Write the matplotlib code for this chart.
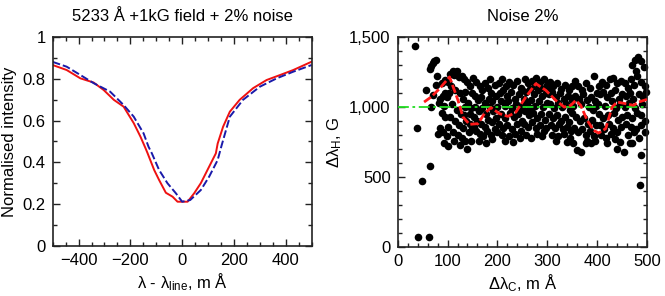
import numpy as np
import matplotlib
matplotlib.use('Agg')
import matplotlib.pyplot as plt
from matplotlib.ticker import MultipleLocator, FuncFormatter

plt.rcParams['font.family'] = ['Liberation Sans', 'DejaVu Sans']
plt.rcParams['mathtext.default'] = 'regular'

# %% Left panel: line profiles (observed + fit)
wl_red = [-500, -446, -393, -342, -303, -264, -226, -187, -161, -141, -134, -108, -89, -63, -37, -18,
          21, 46, 72, 104, 130, 137, 158, 184, 222, 274, 326, 378, 429, 500]
int_red = [0.867, 0.843, 0.803, 0.783, 0.747, 0.700, 0.667, 0.588, 0.523, 0.466, 0.445, 0.363, 0.315,
           0.254, 0.235, 0.211, 0.211, 0.251, 0.300, 0.379, 0.443, 0.490, 0.571, 0.643, 0.700, 0.756,
           0.795, 0.819, 0.843, 0.883]

wl_blue = [-500, -446, -393, -342, -278, -226, -187, -149, -130, -117, -89, -57, -24, 0, 31, 72, 104,
           137, 152, 184, 235, 300, 365, 429, 500]
int_blue = [0.882, 0.859, 0.819, 0.780, 0.739, 0.675, 0.619, 0.539, 0.475, 0.443, 0.363, 0.300, 0.251,
            0.211, 0.219, 0.267, 0.331, 0.411, 0.480, 0.619, 0.700, 0.763, 0.803, 0.835, 0.867]

# %% Right panel: scatter of recovered splitting vs. continuum offset
scatter_x = [35, 39, 40, 49, 62, 64, 57, 67, 70, 64, 67, 70, 73, 76, 78, 77, 85, 90, 95, 98, 88, 95, 100, 82, 92, 88, 95, 85, 80, 90, 98, 100, 93, 100,
             104, 110, 118, 112, 122, 128, 132, 106, 115, 125, 130, 135, 140, 145, 108, 118, 126, 134, 142, 148, 105, 115, 122, 130, 138, 145, 110, 120, 128, 136, 144, 150, 112, 125, 140, 148, 133, 103, 150, 146,
             152, 158, 165, 170, 176, 182, 188, 195, 155, 162, 168, 175, 183, 190, 198, 156, 163, 170, 178, 185, 192, 200, 154, 160, 168, 175, 182, 190, 197, 158, 166, 172, 180, 188, 195, 163, 178, 190, 153, 186,
             203, 210, 218, 224, 232, 240, 247, 205, 212, 220, 228, 236, 244, 250, 207, 215, 222, 230, 238, 246, 208, 216, 226, 234, 242, 250, 204, 212, 220, 230, 240, 248, 210, 224, 236, 246, 215, 232, 200, 250,
             255, 262, 270, 278, 286, 293, 300, 258, 266, 274, 282, 290, 297, 253, 260, 268, 276, 284, 292, 299, 256, 264, 272, 280, 288, 296, 254, 262, 270, 278, 286, 294, 258, 268, 280, 290, 298, 275, 265, 288,
             305, 312, 320, 328, 336, 344, 303, 310, 318, 326, 334, 342, 350, 306, 314, 322, 330, 338, 346, 304, 312, 320, 328, 336, 344, 308, 316, 324, 332, 340, 348, 310, 322, 334, 346, 318, 340, 302, 349,
             355, 362, 370, 378, 386, 394, 400, 356, 364, 372, 380, 388, 396, 352, 368, 384, 392, 398, 358, 366, 374, 382, 390, 398, 354, 362, 370, 378, 386, 394, 352, 359, 368, 377, 380, 396, 388, 350,
             403, 410, 418, 425, 432, 440, 447, 405, 412, 420, 428, 436, 444, 450, 402, 416, 430, 438, 446, 404, 412, 422, 434, 442, 450, 406, 414, 424, 432, 440, 448, 408, 418, 428, 436, 440, 454, 420, 446,
             455, 462, 468, 474, 480, 488, 495, 470, 476, 482, 488, 494, 478, 458, 466, 472, 484, 492, 498, 456, 464, 476, 490, 460, 470, 480, 487, 496, 458, 468, 478, 488, 462, 474, 484, 466, 470, 487, 486, 496]
scatter_y = [1440, 850, 65, 470, 72, 575, 1120, 1000, 1085, 1270, 1295, 1315, 1330, 1340, 1220, 1155, 1060, 1080, 1100, 1075, 1170, 1195, 1180, 1030, 1010, 960, 930, 850, 810, 820, 790, 860, 745, 720,
             1240, 1255, 1260, 1230, 1215, 1225, 1200, 1150, 1120, 1100, 1060, 1110, 1180, 1150, 1020, 980, 950, 1000, 1030, 990, 930, 900, 870, 850, 900, 880, 820, 800, 780, 760, 820, 840, 760, 730, 700, 760, 940, 1100, 1100, 950,
             1210, 1180, 1150, 1120, 1170, 1140, 1100, 1160, 1080, 1050, 1070, 1030, 1060, 1040, 1080, 1000, 970, 990, 950, 1000, 970, 1000, 930, 900, 880, 860, 910, 890, 920, 830, 810, 790, 830, 800, 840, 760, 740, 770, 860, 1200,
             1170, 1200, 1150, 1180, 1160, 1190, 1140, 1100, 1120, 1080, 1110, 1060, 1090, 1120, 1040, 1010, 1040, 990, 1020, 980, 950, 920, 960, 930, 950, 900, 880, 850, 870, 840, 880, 830, 800, 790, 810, 780, 760, 750, 820, 1010,
             1200, 1170, 1190, 1210, 1180, 1200, 1160, 1110, 1130, 1090, 1120, 1080, 1100, 1060, 1030, 1050, 1010, 1040, 1000, 1030, 970, 940, 960, 920, 950, 910, 880, 860, 890, 850, 870, 830, 800, 780, 810, 790, 850, 1150, 990, 1140,
             1180, 1150, 1170, 1130, 1160, 1120, 1090, 1110, 1070, 1100, 1060, 1080, 1050, 1020, 990, 1030, 1000, 1020, 980, 950, 920, 940, 900, 930, 890, 870, 850, 880, 840, 860, 830, 800, 790, 810, 780, 760, 750, 1130, 1150,
             1190, 1150, 1120, 1170, 1140, 1220, 1100, 1080, 1060, 1090, 1050, 1070, 1040, 1010, 1020, 1000, 980, 1010, 930, 900, 920, 880, 910, 870, 850, 820, 840, 800, 830, 790, 742, 694, 675, 742, 760, 760, 740, 960,
             1150, 1180, 1160, 1200, 1210, 1170, 1190, 1090, 1110, 1070, 1100, 1120, 1060, 1090, 1020, 1010, 1040, 990, 1020, 950, 920, 940, 960, 910, 930, 870, 840, 880, 850, 820, 860, 800, 780, 810, 770, 697, 675, 740, 750,
             1170, 1140, 1200, 1160, 1220, 1180, 1150, 1300, 1340, 1360, 1330, 1290, 1260, 1080, 1100, 1060, 1090, 1070, 1110, 1000, 1030, 990, 1020, 940, 920, 960, 940, 900, 880, 860, 840, 870, 800, 820, 780, 745, 740, 653, 438, 820]

# Smoothed fit through the scatter (red dashed)
fit_x = [53, 67, 84, 104, 121, 131, 144, 161, 174, 187, 204, 221, 237, 257, 277, 297, 317, 334, 347,
         357, 367, 380, 393, 403, 417, 430, 440, 457, 473, 483, 500]
fit_y = [1036, 1072, 1132, 1216, 1048, 928, 876, 881, 953, 996, 953, 933, 964, 1072, 1168, 1120, 1048,
         1000, 1012, 1048, 1012, 905, 833, 814, 845, 1000, 1036, 1024, 1012, 1036, 1055]

true_field = 1000

# %% Figure
fig = plt.figure(figsize=(6.65, 2.96), dpi=100)
ax1 = fig.add_axes([0.0792, 0.170, 0.3895, 0.704])
ax2 = fig.add_axes([0.598, 0.167, 0.375, 0.707])

fs = 12

def style_axes(ax):
    ax.tick_params(which='both', direction='in', top=True, right=True, labelsize=fs,
                   width=1.0, color='#222222', pad=5)
    ax.tick_params(which='major', length=5)
    ax.tick_params(which='minor', length=3)
    for s in ax.spines.values():
        s.set_linewidth(1.2)
        s.set_color('#222222')

# Left panel
ax1.plot(wl_red, int_red, color='#ee1111', lw=1.4)
ax1.plot(wl_blue, int_blue, color='#1a1aaa', lw=1.4, ls=(0, (4, 1.5)))
ax1.set_xlim(-500, 500)
ax1.set_ylim(0, 1)
ax1.xaxis.set_major_locator(MultipleLocator(200))
ax1.xaxis.set_minor_locator(MultipleLocator(50))
ax1.yaxis.set_major_locator(MultipleLocator(0.2))
ax1.yaxis.set_minor_locator(MultipleLocator(0.1))
ax1.yaxis.set_major_formatter(FuncFormatter(lambda v, p: f'{round(v, 1):g}'))
style_axes(ax1)
ax1.set_xlabel('λ - λ$_{line}$, m Å', fontsize=fs, labelpad=3)
ax1.set_ylabel('Normalised intensity', fontsize=fs, labelpad=4)
ax1.set_title('5233 Å +1kG field + 2% noise', fontsize=fs, pad=12)

# Right panel
ax2.scatter(scatter_x, scatter_y, s=30, color='black', zorder=2, linewidths=0, clip_on=False)
ax2.axhline(true_field, color='#22dd22', lw=1.3, ls=(0, (6, 2, 1.5, 2)), zorder=3)
ax2.plot(fit_x, fit_y, color='#ff1a1a', lw=2.0, ls=(0, (3, 1)), zorder=4)
ax2.set_xlim(0, 500)
ax2.set_ylim(0, 1500)
ax2.xaxis.set_major_locator(MultipleLocator(100))
ax2.xaxis.set_minor_locator(MultipleLocator(20))
ax2.yaxis.set_major_locator(MultipleLocator(500))
ax2.yaxis.set_minor_locator(MultipleLocator(100))
ax2.yaxis.set_major_formatter(FuncFormatter(lambda v, p: f'{int(v):,}'))
style_axes(ax2)
ax2.set_xlabel('Δλ$_{C}$, m Å', fontsize=fs, labelpad=3)
ax2.set_ylabel('Δλ$_{H}$, G', fontsize=fs, labelpad=4)
ax2.set_title('Noise 2%', fontsize=fs, pad=12)

fig.savefig('out.png', dpi=100)
